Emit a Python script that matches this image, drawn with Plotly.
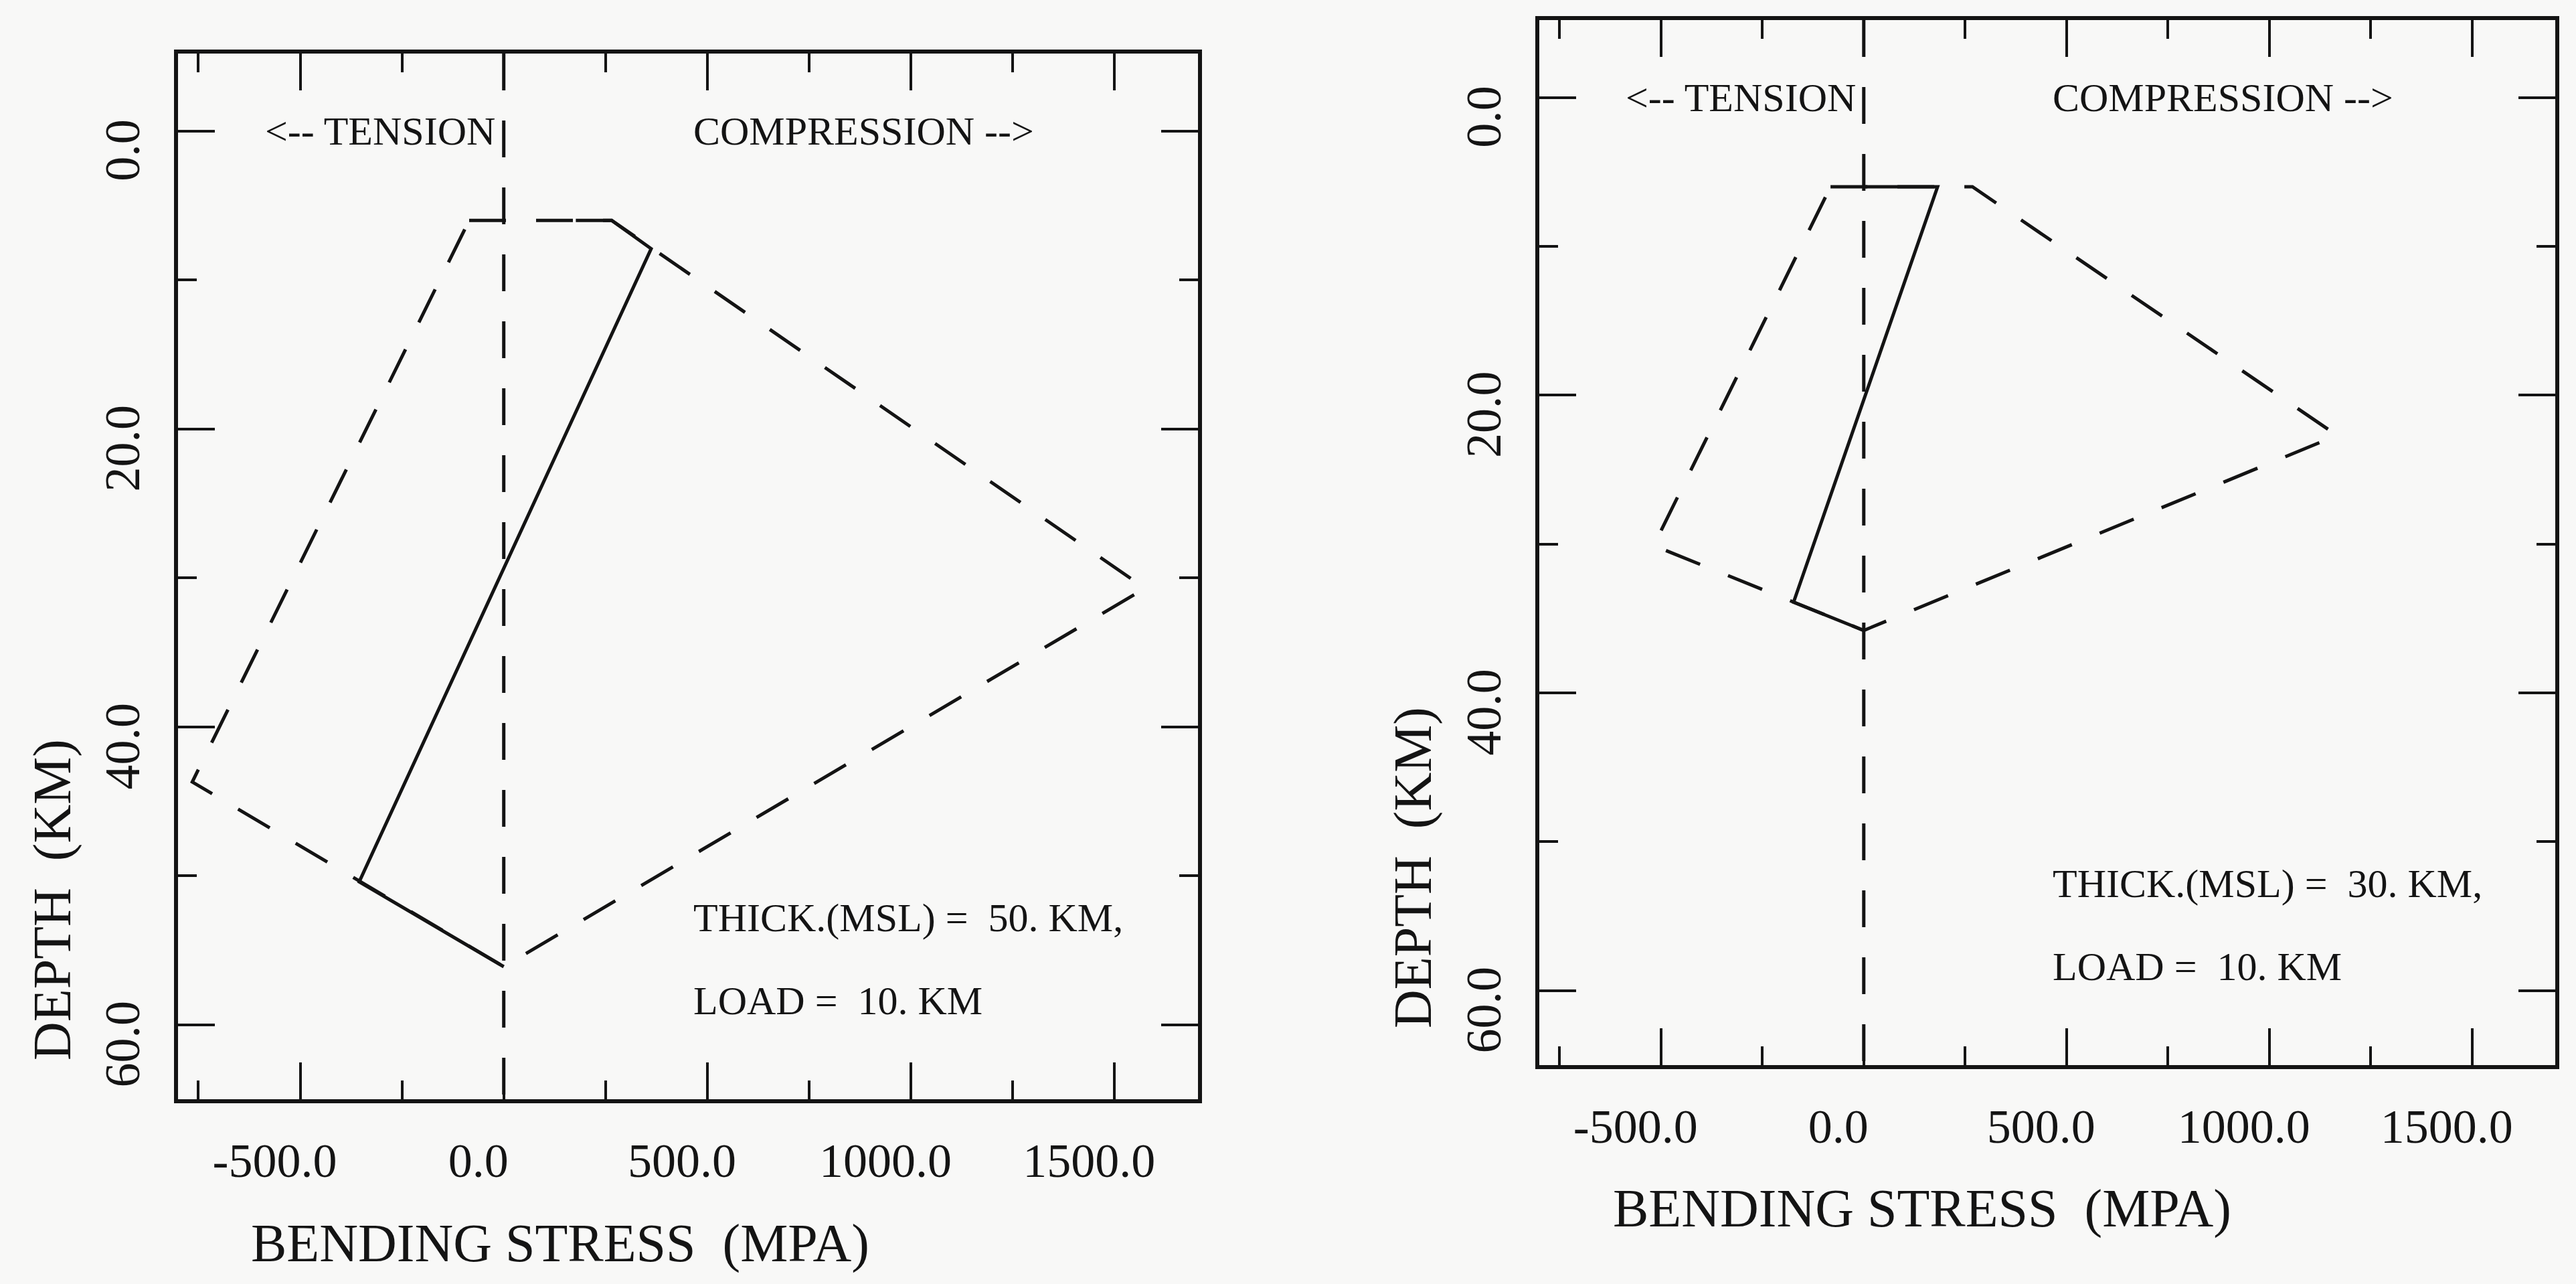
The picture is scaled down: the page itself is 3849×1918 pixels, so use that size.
import plotly.graph_objects as go

# ---------------- data ----------------
# Left panel: THICK.(MSL) = 50 KM, LOAD = 10 KM
left_yse_stress = [-85, 265, 1575, 0, -765, -85]
left_yse_depth = [6.0, 6.0, 30.7, 56.1, 43.7, 6.0]
left_solid_stress = [177, 265, 362, -355, 0]
left_solid_depth = [6.0, 6.0, 7.9, 50.4, 56.1]

# Right panel: THICK.(MSL) = 30 KM, LOAD = 10 KM
right_yse_stress = [-82, 268, 1167, 0, -518, -82]
right_yse_depth = [6.0, 6.0, 22.7, 35.8, 30.1, 6.0]
right_solid_stress = [0, 182, -173, 0]
right_solid_depth = [6.0, 6.0, 33.9, 35.8]

# zero-stress reference line
zero_stress = [0, 0]
zero_depth = [-5.2, 65]

x_range = [-800, 1705]
y_range = [65, -5.2]
x_tickvals = [-500, 0, 500, 1000, 1500]
x_ticktext = ["-500.0", "0.0", "500.0", "1000.0", "1500.0"]
x_minor = [-750, -250, 250, 750, 1250]
y_tickvals = [0, 20, 40, 60]
y_ticktext = ["0.0", "20.0", "40.0", "60.0"]
y_minor = [10, 30, 50]

x_title = "BENDING STRESS  (MPA)"
y_title = "DEPTH  (KM)"
tension_label = "&lt;-- TENSION"
compression_label = "COMPRESSION --&gt;"
left_notes = ["THICK.(MSL) =  50. KM,", "LOAD =  10. KM"]
right_notes = ["THICK.(MSL) =  30. KM,", "LOAD =  10. KM"]

# ---------------- styling ----------------
INK = "#141414"
BG = "#f8f8f7"
FONT = "Liberation Serif"
DASH = "55px,45px"

fig = go.Figure()

def add_panel(xa, ya, yse_x, yse_y, sol_x, sol_y):
    fig.add_trace(go.Scatter(x=zero_stress, y=zero_depth, mode="lines",
                             line=dict(color=INK, width=5, dash=DASH),
                             xaxis=xa, yaxis=ya, showlegend=False, hoverinfo="skip"))
    fig.add_trace(go.Scatter(x=yse_x, y=yse_y, mode="lines",
                             line=dict(color=INK, width=5, dash=DASH),
                             xaxis=xa, yaxis=ya, showlegend=False))
    fig.add_trace(go.Scatter(x=sol_x, y=sol_y, mode="lines",
                             line=dict(color=INK, width=5),
                             xaxis=xa, yaxis=ya, showlegend=False))

add_panel("x", "y", left_yse_stress, left_yse_depth, left_solid_stress, left_solid_depth)
add_panel("x2", "y2", right_yse_stress, right_yse_depth, right_solid_stress, right_solid_depth)

def xaxis_style(domain, anchor):
    return dict(domain=domain, anchor=anchor, range=x_range,
                showgrid=False, zeroline=False,
                showline=True, linecolor=INK, linewidth=6, mirror="ticks",
                ticks="inside", ticklen=55, tickwidth=4, tickcolor=INK,
                tickvals=x_tickvals, ticktext=x_ticktext,
                tickfont=dict(family=FONT, size=72, color=INK),
                ticklabelstandoff=24, ticklabelshift=-38,
                minor=dict(tickvals=x_minor, ticks="inside", ticklen=28,
                           tickwidth=4, tickcolor=INK, showgrid=False))

def yaxis_style(domain, anchor):
    return dict(domain=domain, anchor=anchor, range=y_range,
                showgrid=False, zeroline=False,
                showline=True, linecolor=INK, linewidth=6, mirror="ticks",
                ticks="inside", ticklen=55, tickwidth=4, tickcolor=INK,
                tickvals=y_tickvals, ticktext=y_ticktext, tickangle=-90,
                tickfont=dict(family=FONT, size=74, color=INK),
                ticklabelstandoff=22, ticklabelshift=-40,
                minor=dict(tickvals=y_minor, ticks="inside", ticklen=28,
                           tickwidth=4, tickcolor=INK, showgrid=False))

W, H = 3849, 1918
fig.update_layout(
    width=W, height=H,
    margin=dict(l=0, r=0, t=0, b=0),
    paper_bgcolor=BG, plot_bgcolor=BG,
    showlegend=False,
    xaxis=xaxis_style([266 / W, 1790 / W], "y"),
    yaxis=yaxis_style([(H - 1642) / H, (H - 80) / H], "x"),
    xaxis2=xaxis_style([2300 / W, 3818 / W], "y2"),
    yaxis2=yaxis_style([(H - 1591) / H, (H - 30) / H], "x2"),
)

ann = []
def text_ann(xref, yref, x, y, text, size=60, xanchor="left"):
    ann.append(dict(xref=xref, yref=yref, x=x, y=y, text=text, showarrow=False,
                    xanchor=xanchor, yanchor="middle",
                    font=dict(family=FONT, size=size, color=INK)))

for xr, yr, notes in (("x", "y", left_notes), ("x2", "y2", right_notes)):
    text_ann(xr, yr, -590, 0.0, tension_label)
    text_ann(xr, yr, 462, 0.0, compression_label)
    text_ann(xr, yr, 462, 52.8, notes[0])
    text_ann(xr, yr, 462, 58.4, notes[1])

# axis titles
ann.append(dict(xref="paper", yref="paper", x=373 / W, y=(H - 1857) / H, text=x_title,
                showarrow=False, xanchor="left", yanchor="middle",
                font=dict(family=FONT, size=80, color=INK)))
ann.append(dict(xref="paper", yref="paper", x=2408 / W, y=(H - 1805) / H, text=x_title,
                showarrow=False, xanchor="left", yanchor="middle",
                font=dict(family=FONT, size=80, color=INK)))
ann.append(dict(xref="paper", yref="paper", x=78 / W, y=(H - 1344) / H, text=y_title,
                showarrow=False, xanchor="center", yanchor="middle", textangle=-90,
                font=dict(family=FONT, size=80, color=INK)))
ann.append(dict(xref="paper", yref="paper", x=2111 / W, y=(H - 1296) / H, text=y_title,
                showarrow=False, xanchor="center", yanchor="middle", textangle=-90,
                font=dict(family=FONT, size=80, color=INK)))

fig.update_layout(annotations=ann)
fig.write_html("out.html")
